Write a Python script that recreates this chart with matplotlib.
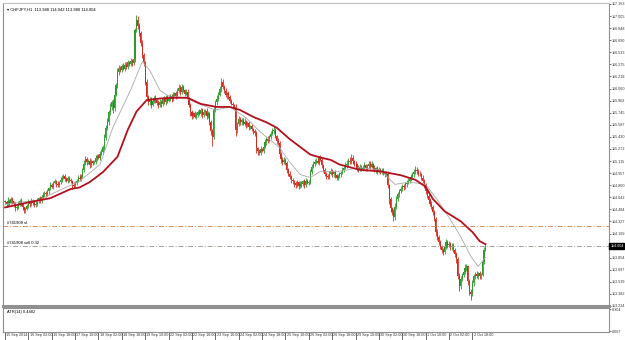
import numpy as np
from matplotlib import pyplot as plt
from matplotlib import transforms

# hourly closes, CHFJPY H1, 15 Sep 10:00 .. 3 Oct 03:00
closes = [
    114.58, 114.55, 114.60, 114.57, 114.62, 114.59, 114.55, 114.50, 114.52, 114.56,
    114.60, 114.55, 114.51, 114.47, 114.49, 114.53, 114.58, 114.55, 114.60, 114.57,
    114.54, 114.56, 114.59, 114.63, 114.60, 114.64, 114.67, 114.70, 114.68, 114.72,
    114.76, 114.80, 114.78, 114.83, 114.85, 114.82, 114.80, 114.84, 114.87, 114.90,
    114.92, 114.88, 114.86, 114.90, 114.87, 114.85, 114.80, 114.79, 114.83, 114.86,
    114.90, 114.88, 114.92, 115.00, 115.08, 115.14, 115.10, 115.12, 115.06, 115.11,
    115.09, 115.10, 115.15, 115.18, 115.16, 115.21, 115.23, 115.30, 115.42, 115.55,
    115.63, 115.75, 115.82, 115.88, 115.80, 115.98, 116.10, 116.28, 116.33, 116.30,
    116.35, 116.32, 116.37, 116.34, 116.40, 116.38, 116.42, 116.39, 116.44, 116.82,
    116.95, 116.87, 116.78, 116.65, 116.50, 116.40, 116.15, 115.95, 115.88, 115.92,
    115.85, 115.90, 115.94, 115.91, 115.87, 115.84, 115.89, 115.86, 115.92, 115.88,
    115.95, 115.90, 115.93, 115.96, 115.92, 115.98, 116.00, 115.96, 116.03, 116.07,
    116.01, 116.08, 116.04, 115.99, 116.02, 115.92, 115.85, 115.75, 115.70, 115.74,
    115.69, 115.72, 115.76, 115.73, 115.78, 115.71, 115.75, 115.77, 115.70, 115.74,
    115.62, 115.50, 115.43, 115.78, 115.88, 115.93, 115.98, 116.05, 116.14, 116.08,
    116.03, 115.97, 116.00, 115.95, 115.90, 115.86, 115.84, 115.82, 115.52, 115.60,
    115.66, 115.62, 115.65, 115.60, 115.63, 115.58, 115.61, 115.56, 115.57, 115.53,
    115.50, 115.48, 115.28, 115.24, 115.22, 115.27, 115.25, 115.30, 115.36, 115.40,
    115.38, 115.43, 115.47, 115.50, 115.52, 115.44, 115.38, 115.35, 115.20, 115.14,
    115.10, 115.13, 115.09, 115.00, 114.95, 114.91, 114.87, 114.85, 114.83, 114.80,
    114.84, 114.79, 114.82, 114.81, 114.85, 114.80, 114.86, 114.83, 114.84, 114.97,
    115.04, 115.08, 115.10, 115.12, 115.09, 115.15, 115.13, 115.06, 115.00, 114.95,
    114.92, 114.91, 114.95, 114.98, 114.94, 114.97, 114.93, 114.90, 114.92, 114.94,
    114.96, 115.00, 115.03, 115.06, 115.08, 115.12, 115.10, 115.16, 115.11, 115.08,
    115.07, 115.03, 115.00, 115.04, 115.01, 115.03, 115.06, 115.02, 115.05, 115.08,
    115.04, 115.07, 115.03, 115.00, 115.02, 114.98, 115.01, 114.97, 114.99, 114.96,
    114.94, 114.95, 114.80, 114.62, 114.50, 114.45, 114.38, 114.52, 114.62, 114.68,
    114.72, 114.75, 114.79, 114.77, 114.81, 114.83, 114.86, 114.88, 114.91, 114.94,
    114.97, 115.00, 114.98, 114.95, 114.94, 114.90, 114.86, 114.80, 114.72, 114.66,
    114.61, 114.56, 114.52, 114.45, 114.36, 114.19, 114.12, 114.06, 114.00, 113.95,
    113.93, 114.00, 114.06, 114.02, 114.03, 113.99, 114.01, 113.96, 113.90, 113.84,
    113.62, 113.48, 113.58, 113.63, 113.67, 113.72, 113.74, 113.55, 113.41, 113.38,
    113.52, 113.61, 113.64, 113.62, 113.65, 113.61, 113.63, 113.80, 113.96, 114.00,
]

# wick lengths above / below the body, in 0.01 yen
wick_hi = [
    3, 2, 4, 2, 3, 2, 1, 3, 2, 4, 2, 3, 2, 1, 3, 2, 4, 2, 3, 2,
    2, 3, 4, 2, 3, 2, 4, 3, 2, 3, 2, 4, 3, 2, 3, 2, 3, 2, 4, 3,
    3, 2, 3, 2, 2, 3, 2, 4, 3, 2, 3, 4, 2, 3, 5, 4, 3, 2, 4, 3,
    2, 3, 4, 2, 3, 3, 4, 3, 5, 4, 4, 3, 5, 3, 4, 4, 3, 5, 4, 3,
    3, 4, 3, 4, 3, 2, 4, 3, 2, 3, 7, 5, 4, 3, 4, 3, 2, 4, 3, 3,
    3, 4, 2, 3, 2, 4, 3, 2, 3, 4, 3, 2, 4, 3, 3, 4, 2, 3, 4, 5,
    3, 4, 3, 2, 3, 4, 3, 2, 3, 2, 3, 4, 2, 3, 2, 3, 4, 2, 3, 3,
    2, 3, 3, 4, 3, 4, 3, 4, 6, 4, 3, 4, 2, 3, 3, 2, 3, 2, 4, 3,
    4, 3, 2, 3, 4, 2, 3, 3, 2, 3, 2, 3, 3, 2, 3, 4, 2, 3, 4, 3,
    4, 3, 3, 4, 5, 3, 2, 3, 2, 3, 3, 4, 2, 3, 2, 3, 2, 3, 2, 3,
    3, 2, 4, 3, 2, 3, 4, 2, 3, 4, 4, 3, 4, 3, 4, 3, 4, 3, 2, 3,
    2, 3, 3, 4, 3, 2, 3, 2, 3, 3, 3, 4, 3, 4, 5, 3, 5, 4, 3, 2,
    3, 2, 3, 3, 2, 3, 4, 2, 3, 4, 3, 4, 2, 3, 2, 3, 3, 2, 3, 3,
    2, 3, 3, 2, 3, 2, 4, 5, 4, 3, 3, 4, 3, 2, 3, 4, 3, 3, 4, 3,
    4, 5, 4, 3, 3, 2, 3, 2, 3, 2, 3, 2, 3, 2, 3, 3, 4, 3, 3, 2,
    3, 5, 4, 3, 4, 3, 4, 3, 2, 3, 2, 3, 4, 3, 4, 5, 3, 2, 3, 3,
    4, 3, 3, 4, 2, 3, 3, 4, 4, 3,
]
wick_lo = [
    2, 3, 2, 4, 2, 3, 3, 4, 2, 3, 3, 2, 4, 3, 3, 2, 3, 3, 2, 3,
    3, 2, 3, 2, 3, 3, 2, 3, 3, 2, 3, 2, 2, 3, 2, 4, 3, 2, 2, 3,
    2, 3, 2, 3, 3, 2, 5, 3, 2, 3, 2, 3, 3, 2, 3, 2, 4, 3, 3, 2,
    3, 2, 3, 3, 2, 3, 2, 3, 4, 3, 3, 5, 3, 4, 6, 3, 2, 3, 4, 3,
    3, 2, 3, 2, 3, 3, 2, 3, 2, 3, 2, 3, 4, 3, 4, 5, 4, 5, 3, 3,
    4, 2, 3, 4, 3, 3, 2, 4, 3, 2, 3, 3, 2, 3, 4, 2, 3, 3, 2, 3,
    3, 2, 3, 3, 2, 4, 3, 5, 4, 3, 2, 3, 3, 2, 3, 4, 2, 3, 4, 3,
    4, 5, 12, 3, 2, 3, 3, 2, 3, 3, 3, 2, 4, 3, 3, 2, 3, 3, 8, 4,
    3, 3, 4, 2, 3, 3, 2, 4, 3, 3, 3, 4, 6, 4, 3, 3, 2, 3, 2, 3,
    3, 2, 3, 2, 3, 3, 4, 3, 4, 5, 4, 3, 3, 4, 3, 3, 4, 3, 5, 4,
    3, 4, 3, 3, 2, 4, 3, 2, 3, 3, 3, 2, 3, 3, 2, 3, 2, 4, 3, 3,
    4, 3, 3, 2, 3, 3, 4, 3, 3, 2, 3, 2, 3, 2, 3, 3, 2, 3, 4, 3,
    3, 4, 3, 2, 3, 3, 2, 3, 3, 2, 3, 2, 3, 3, 4, 3, 2, 3, 3, 3,
    3, 2, 4, 6, 5, 4, 5, 3, 3, 2, 3, 2, 3, 3, 2, 3, 2, 3, 2, 3,
    3, 2, 3, 3, 2, 3, 3, 4, 3, 3, 4, 3, 3, 4, 3, 5, 3, 4, 3, 4,
    4, 3, 3, 4, 3, 3, 4, 3, 4, 5, 5, 6, 4, 3, 3, 3, 4, 5, 4, 8,
    3, 4, 3, 3, 4, 3, 3, 2, 3, 2,
]

# moving averages (bar index, price)
ma_slow_bar = [0, 10, 17, 31, 45, 51, 58, 67, 77, 84, 90, 97, 106, 116, 125, 134, 145, 154,
               161, 170, 179, 186, 195, 202, 209, 216, 223, 229, 243, 257, 271, 281, 288,
               293, 301, 312, 320, 325, 329]
ma_slow = [114.51, 114.55, 114.58, 114.63, 114.75, 114.77, 114.84, 114.97, 115.17, 115.52,
           115.76, 115.91, 115.93, 115.94, 115.94, 115.86, 115.82, 115.82, 115.78, 115.69,
           115.62, 115.55, 115.40, 115.30, 115.20, 115.16, 115.13, 115.07, 115.00, 114.98,
           114.93, 114.87, 114.78, 114.62, 114.46, 114.33, 114.19, 114.07, 114.03]
ma_fast_bar = [0, 24, 38, 51, 65, 74, 86, 94, 99, 106, 113, 120, 127, 134, 144, 154, 165,
               175, 188, 195, 202, 209, 216, 229, 243, 257, 267, 277, 288, 296, 305, 312,
               319, 324, 329]
ma_fast = [114.55, 114.61, 114.74, 114.85, 115.07, 115.56, 116.04, 116.41, 116.30, 116.04,
           115.95, 115.95, 115.91, 115.85, 115.78, 115.82, 115.68, 115.49, 115.29, 115.10,
           114.94, 114.90, 114.98, 114.98, 115.03, 115.00, 114.81, 114.84, 114.81, 114.61,
           114.35, 114.13, 113.87, 113.74, 113.86]

time_labels = ["15 Sep 2014", "16 Sep 02:00", "16 Sep 18:00", "17 Sep 10:00", "18 Sep 02:00",
               "18 Sep 18:00", "19 Sep 10:00", "22 Sep 02:00", "22 Sep 18:00", "23 Sep 10:00",
               "24 Sep 02:00", "24 Sep 18:00", "25 Sep 10:00", "26 Sep 02:00", "26 Sep 18:00",
               "29 Sep 10:00", "30 Sep 02:00", "30 Sep 18:00", "1 Oct 10:00", "2 Oct 02:00",
               "2 Oct 18:00"]
time_ticks = [16 * i for i in range(len(time_labels))]

price_ticks = [117.163, 117.005, 116.848, 116.690, 116.533, 116.375, 116.218, 116.060,
               115.902, 115.745, 115.587, 115.430, 115.272, 115.115, 114.957, 114.800,
               114.642, 114.484, 114.327, 114.169, 113.854, 113.697, 113.539, 113.382,
               113.224]

last_price = 114.004
sl_level = 114.264
order_level = 114.011
title = "CHFJPY,H1  113.988 114.042 113.980 114.004"

close = np.array(closes)
opn = np.r_[close[0], close[:-1]]
high = np.maximum(opn, close) + np.array(wick_hi) / 100
low = np.minimum(opn, close) - np.array(wick_lo) / 100
x = np.arange(len(close))

plt.rcParams['font.family'] = ['Liberation Sans', 'DejaVu Sans']
fig = plt.figure(figsize=(6.25, 3.4), dpi=100)
ax = fig.add_axes([3 / 625, 1 - 306 / 340, 606 / 625, 303 / 340])
sub = fig.add_axes([3 / 625, 1 - 332 / 340, 606 / 625, 24 / 340], sharex=ax)

up = close >= opn
bull, bear = "#2e9a2e", "#d42a1e"
cols = np.where(up, bull, bear)
ax.vlines(x, low, high, colors=cols, lw=0.6)
ax.bar(x, np.maximum(np.abs(close - opn), 0.008), bottom=np.minimum(opn, close),
       width=0.75, color=cols, lw=0)

ax.plot(ma_fast_bar, ma_fast, color="#a8a8a8", lw=0.6)
ax.plot(ma_slow_bar, ma_slow, color="#b3101e", lw=1.3)

ax.axhline(sl_level, color="#d9905a", lw=0.7, ls=(0, (5, 2, 1, 2)))
ax.axhline(order_level, color="#a8a098", lw=0.7, ls=(0, (5, 2, 1, 2)))
ax.text(1, sl_level + 0.01, "#741908 sl", fontsize=3.0, va="bottom")
ax.text(1, order_level + 0.01, "#741908 sell 0.32", fontsize=3.0, va="bottom")

ax.set_xlim(-1.4, 413.6)
ax.set_ylim(113.237, 117.176)
ax.yaxis.tick_right()
ax.set_yticks(price_ticks)
ax.set_yticklabels([f"{p:.3f}" for p in price_ticks], fontsize=2.7)
ax.tick_params(axis="y", length=1.2, width=0.5, pad=0.6, colors="#333333")
ax.tick_params(axis="x", length=0, labelbottom=False)
for s in ax.spines.values():
    s.set_color("#909090")
    s.set_linewidth(0.8)
ax.spines["bottom"].set_linewidth(2.2)
ax.spines["top"].set_color("#c0c0c0")

ax.text(0.006, 0.977, "\u25be " + title, transform=ax.transAxes, fontsize=3.0, va="center")

# current price marker on the price scale
ax.text(1.002, last_price, f"{last_price:.3f}", transform=ax.get_yaxis_transform(),
        fontsize=2.7, color="white", va="center", ha="left",
        bbox=dict(boxstyle="square,pad=0.2", fc="black", ec="black"), clip_on=False)

# indicator window (empty)
sub.set_ylim(0.060, 0.318)
sub.yaxis.tick_right()
sub.set_yticks([0.304, 0.067])
sub.set_yticklabels(["0.304", "0.067"], fontsize=2.7)
sub.tick_params(axis="y", length=1.2, width=0.5, pad=0.6, colors="#333333")
sub.text(0.006, 0.84, "ATR(14) 0.4482", transform=sub.transAxes, fontsize=2.9, va="center")
for s in sub.spines.values():
    s.set_color("#909090")
    s.set_linewidth(0.8)

sub.set_xticks(time_ticks)
sub.set_xticklabels(time_labels, fontsize=2.7, ha="left")
sub.tick_params(axis="x", length=6, width=0.5, pad=-5.2, colors="#333333")
offset = transforms.ScaledTranslation(1.2 / 100, 0, fig.dpi_scale_trans)
for lab in sub.get_xticklabels():
    lab.set_transform(lab.get_transform() + offset)

fig.savefig("out.png", dpi=100)
